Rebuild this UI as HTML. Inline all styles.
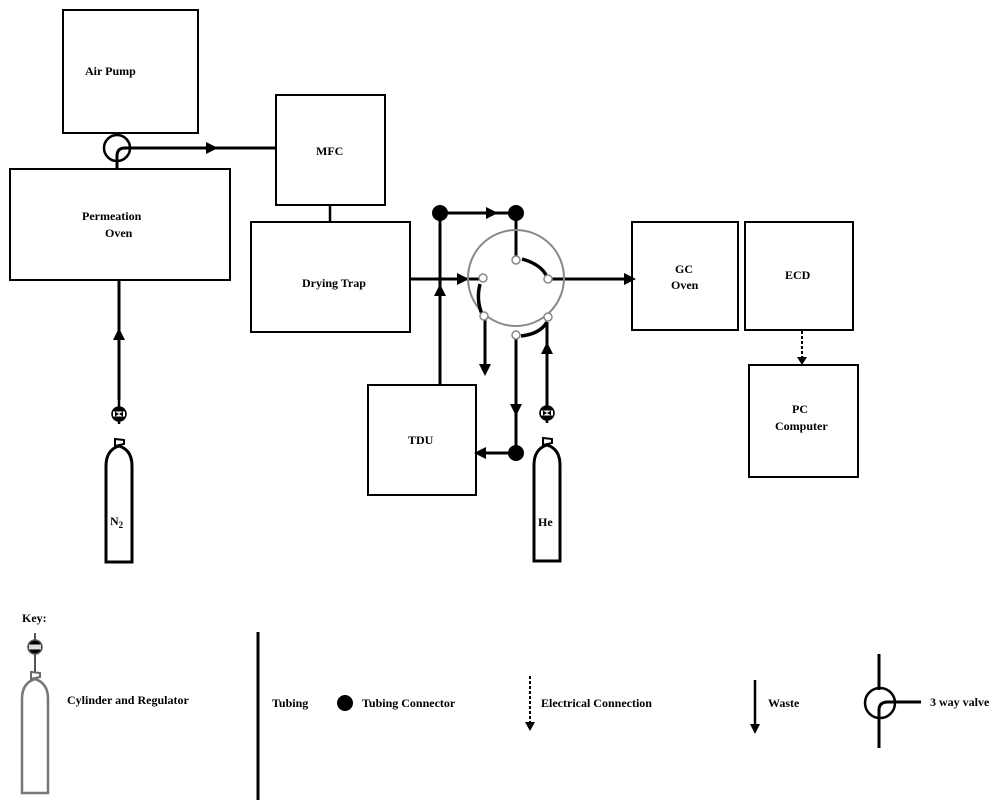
<!DOCTYPE html>
<html><head><meta charset="utf-8"><style>
html,body{margin:0;padding:0;background:#fff;}
svg{display:block;}
text{font-family:"Liberation Serif",serif;font-weight:bold;font-size:12px;fill:#000;}
</style></head><body>
<svg width="1000" height="809" viewBox="0 0 1000 809" xmlns="http://www.w3.org/2000/svg">
<defs>
<marker id="ah" viewBox="0 0 10 10" refX="5" refY="5" markerWidth="4" markerHeight="4" orient="auto"><path d="M0,0 L10,5 L0,10 z" fill="#000"/></marker>
<g id="cyl">
  <line x1="0" y1="-20" x2="0" y2="10" stroke="#000" stroke-width="2.5"/>
  <circle cx="0" cy="0" r="7" fill="#000" stroke="#000" stroke-width="1.5"/>
  <rect x="-6" y="-2.5" width="12" height="5" fill="#fff"/>
  <path d="M-4,-2.5 L0,0 L-4,2.5 z M4,-2.5 L0,0 L4,2.5 z" fill="#000"/>
  <path d="M-4,25 L-4,32 L5,30 L5,26 z" fill="none" stroke="#000" stroke-width="2"/>
  <path d="M-13,148 L-13,52 Q-13,36 0,32 Q13,36 13,52 L13,148 z" fill="#fff" stroke="#000" stroke-width="3"/>
</g>
<g id="key-cyl">
  <line x1="0" y1="-14" x2="0" y2="26" stroke="#555" stroke-width="2"/>
  <circle cx="0" cy="0" r="7" fill="#000" stroke="#555" stroke-width="1.5"/>
  <rect x="-6" y="-2.5" width="12" height="5" fill="#ddd"/>
  <path d="M-4,25 L-4,32 L5,30 L5,26 z" fill="none" stroke="#666" stroke-width="2"/>
  <path d="M-13,146 L-13,52 Q-13,36 0,32 Q13,36 13,52 L13,146 z" fill="#fff" stroke="#777" stroke-width="2.5"/>
</g>
</defs>
<g fill="none" stroke="#000" stroke-width="2">
<rect x="63" y="10" width="135" height="123"/>
<rect x="10" y="169" width="220" height="111"/>
<rect x="276" y="95" width="109" height="110"/>
<rect x="251" y="222" width="159" height="110"/>
<rect x="368" y="385" width="108" height="110"/>
<rect x="632" y="222" width="106" height="108"/>
<rect x="745" y="222" width="108" height="108"/>
<rect x="749" y="365" width="109" height="112"/>
</g>
<g stroke="#000" stroke-width="3" fill="none">
<!-- valve top -->
<line x1="117" y1="133" x2="117" y2="169"/>
<circle cx="117" cy="148" r="13" stroke-width="2.5" fill="#fff"/>
<path d="M117,169 L117,156 Q117,148 125,148 L276,148"/>
<line x1="130" y1="148" x2="212" y2="148" marker-end="url(#ah)"/>
<line x1="330" y1="205" x2="330" y2="222" stroke-width="2.5"/>
<line x1="410" y1="279" x2="463" y2="279" marker-end="url(#ah)"/>
<line x1="463" y1="279" x2="480" y2="279"/>
<line x1="440" y1="213" x2="440" y2="385"/>
<line x1="440" y1="330" x2="440" y2="290" marker-end="url(#ah)"/>
<line x1="440" y1="213" x2="492" y2="213" marker-end="url(#ah)"/>
<line x1="492" y1="213" x2="516" y2="213"/>
<line x1="516" y1="213" x2="516" y2="256"/>
<line x1="552" y1="279" x2="630" y2="279" marker-end="url(#ah)"/>
<line x1="485" y1="320" x2="485" y2="370" marker-end="url(#ah)"/>
<line x1="516" y1="339" x2="516" y2="453"/>
<line x1="516" y1="390" x2="516" y2="410" marker-end="url(#ah)"/>
<line x1="516" y1="453" x2="480" y2="453" marker-end="url(#ah)"/>
<line x1="547" y1="322" x2="547" y2="408"/>
<line x1="547" y1="370" x2="547" y2="348" marker-end="url(#ah)"/>
<line x1="119" y1="280" x2="119" y2="400"/>
<line x1="119" y1="350" x2="119" y2="334" marker-end="url(#ah)"/>
</g>
<circle cx="516" cy="278" r="48" fill="none" stroke="#888" stroke-width="2"/>
<g stroke="#000" stroke-width="3.5" fill="none">
<path d="M522,259 Q540,264 546,275"/>
<path d="M480,284 Q476,300 482,314"/>
<path d="M521,336 Q540,334 547,322"/>
</g>
<g fill="#fff" stroke="#888" stroke-width="1.5">
<circle cx="516" cy="260" r="4"/><circle cx="548" cy="279" r="4"/><circle cx="483" cy="278" r="4"/>
<circle cx="484" cy="316" r="4"/><circle cx="516" cy="335" r="4"/><circle cx="548" cy="317" r="4"/>
</g>
<g fill="#000">
<circle cx="440" cy="213" r="8"/><circle cx="516" cy="213" r="8"/><circle cx="516" cy="453" r="8"/>
</g>
<line x1="802" y1="331" x2="802" y2="360" stroke="#000" stroke-width="2" stroke-dasharray="3,2"/>
<path d="M797,357 L807,357 L802,365 z" fill="#000"/>
<use href="#cyl" x="119" y="414"/>
<use href="#cyl" x="547" y="413"/>
<text x="85" y="75">Air Pump</text>
<text x="82" y="220">Permeation</text>
<text x="105" y="237">Oven</text>
<text x="316" y="155">MFC</text>
<text x="302" y="287">Drying Trap</text>
<text x="408" y="444">TDU</text>
<text x="675" y="273">GC</text>
<text x="671" y="289">Oven</text>
<text x="785" y="279">ECD</text>
<text x="792" y="413">PC</text>
<text x="775" y="430">Computer</text>
<text x="110" y="525" font-size="14">N<tspan font-size="9" dy="3">2</tspan></text>
<text x="538" y="526" font-size="13">He</text>
<!-- key -->
<text x="22" y="622">Key:</text>
<use href="#key-cyl" x="35" y="647"/>
<text x="67" y="704">Cylinder and Regulator</text>
<line x1="258" y1="632" x2="258" y2="800" stroke="#000" stroke-width="3"/>
<text x="272" y="707">Tubing</text>
<circle cx="345" cy="703" r="8" fill="#000"/>
<text x="362" y="707">Tubing Connector</text>
<line x1="530" y1="676" x2="530" y2="724" stroke="#000" stroke-width="2" stroke-dasharray="3,2"/>
<path d="M525,722 L535,722 L530,731 z" fill="#000"/>
<text x="541" y="707">Electrical Connection</text>
<line x1="755" y1="680" x2="755" y2="726" stroke="#000" stroke-width="2.5"/>
<path d="M750,724 L760,724 L755,734 z" fill="#000"/>
<text x="768" y="707">Waste</text>
<g stroke="#000" stroke-width="3" fill="none">
<line x1="879" y1="654" x2="879" y2="690"/>
<circle cx="880" cy="703" r="15" stroke-width="2.5"/>
<path d="M879,748 L879,710 Q879,702 888,702 L921,702"/>
</g>
<text x="930" y="706">3 way valve</text>
</svg>
</body></html>
